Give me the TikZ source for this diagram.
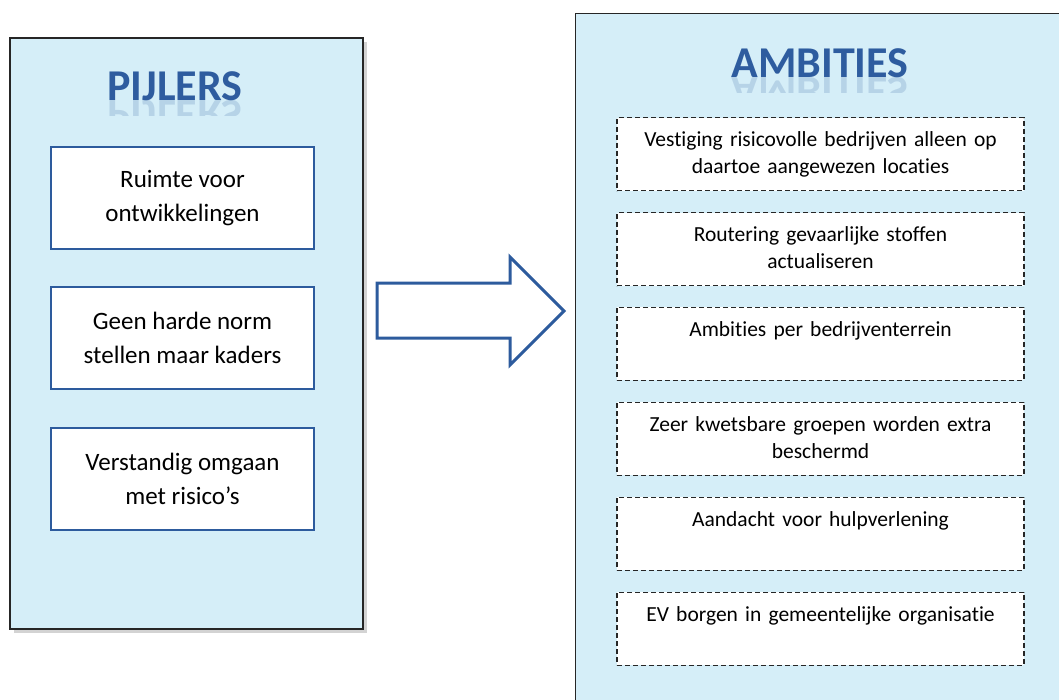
\documentclass[tikz,border=0pt]{standalone}
\usepackage{fontspec}
\setmainfont{Carlito}[Ligatures=NoCommon]
\usetikzlibrary{positioning,shadows}
\definecolor{panelblue}{HTML}{D5EEF8}
\definecolor{boxblue}{HTML}{2D5B9D}
\definecolor{titleblue}{HTML}{2E5C9F}
\begin{document}
\begin{tikzpicture}[x=1pt,y=-1pt,
    panel/.style={draw=black!85,line width=1.2pt,fill=panelblue,
      drop shadow={shadow xshift=4pt,shadow yshift=-4pt,opacity=.35}},
    titel/.style={text=titleblue,anchor=base,font=\fontsize{44}{50}\selectfont\bfseries},
    spiegel/.style={titel,yscale=-1,opacity=.18},
    pijler/.style={draw=boxblue,line width=2pt,fill=white,minimum width=263pt,
      minimum height=102pt,align=center,font=\fontsize{25}{34}\selectfont},
    ambitie/.style={draw=black!85,dash pattern=on 5pt off 3pt,line width=1.3pt,
      fill=white,text width=407pt,inner sep=0pt,align=center,
      text height=29pt,text depth=44pt,font=\fontsize{21.5}{27}\selectfont}]
    \useasboundingbox (0,0) rectangle (1059,699);
    % panelen
    \node[panel,minimum width=353pt,minimum height=591pt] (pijlers) at (186.5,333.5) {};
    \node[panel,minimum width=495pt,minimum height=700pt,anchor=north west] (ambities) at (575,13) {};
    \node[titel] (tpijlers) at (175,100) {PIJLERS};
    \node[titel] (tambities) at (820,77) {AMBITIES};
    % weerspiegeling van de titels
    \begin{scope}
      \clip (90,100) rectangle (260,115) (710,77) rectangle (930,92);
      \node[spiegel] (rpijlers) at (175,100) {PIJLERS};
      \node[spiegel] (rambities) at (820,77) {AMBITIES};
    \end{scope}
    % pijlers
    \node[pijler] (p1) at (182.5,198) {Ruimte voor\\ontwikkelingen};
    \node[pijler] (p2) at (182.5,338) {Geen harde norm\\stellen maar kaders};
    \node[pijler] (p3) at (182.5,479) {Verstandig omgaan\\met risico’s};
    % ambities
    \node[ambitie,anchor=north] (a1) at (820.5,117) {Vestiging risicovolle bedrijven alleen op\\daartoe aangewezen locaties};
    \node[ambitie,below=20.6pt of a1] (a2) {Routering gevaarlijke stoffen\\actualiseren};
    \node[ambitie,below=20.6pt of a2] (a3) {Ambities per bedrijventerrein};
    \node[ambitie,below=20.6pt of a3] (a4) {Zeer kwetsbare groepen worden extra\\beschermd};
    \node[ambitie,below=20.6pt of a4] (a5) {Aandacht voor hulpverlening};
    \node[ambitie,below=20.6pt of a5] (a6) {EV borgen in gemeentelijke organisatie};
    % pijl
    \draw[boxblue,line width=3pt,fill=white,line join=miter]
      (377,283) -- (510,283) -- (510,257) -- (564,311) -- (510,365) -- (510,338) -- (377,338) -- cycle;
\end{tikzpicture}
\end{document}
